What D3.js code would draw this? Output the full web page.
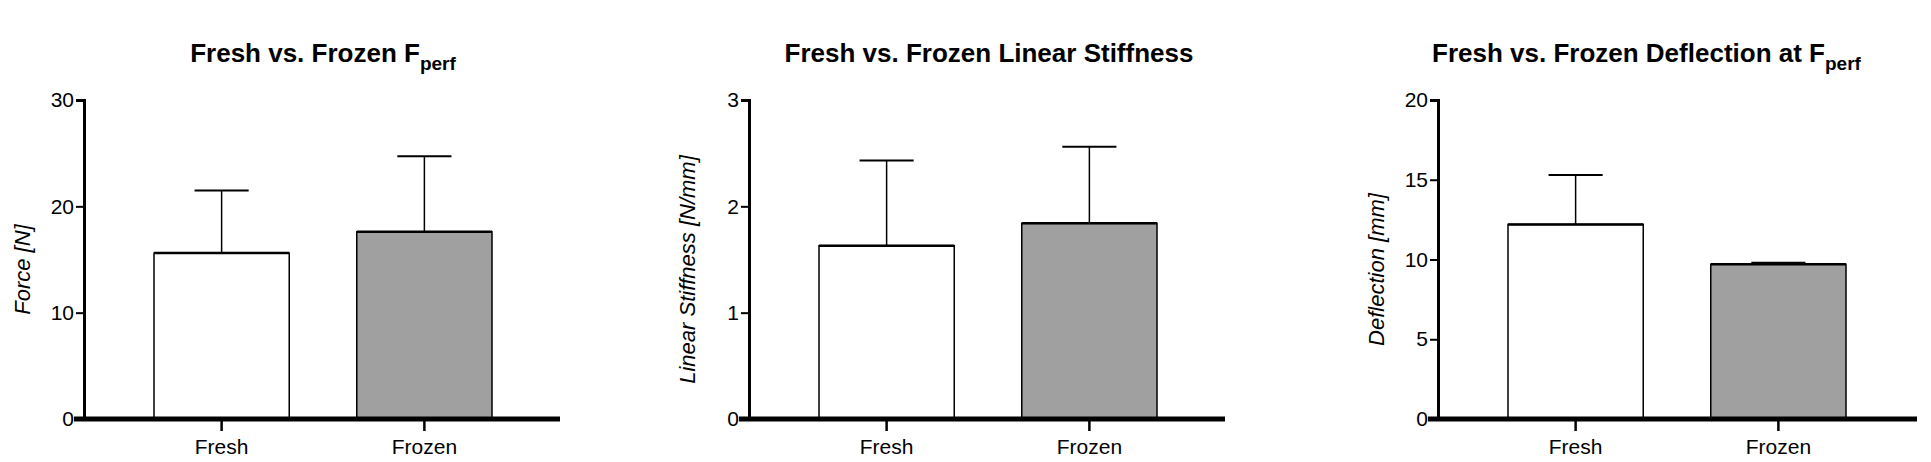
<!DOCTYPE html>
<html><head><meta charset="utf-8">
<script src="https://cdn.jsdelivr.net/npm/d3@7"></script>
<style>body{margin:0;background:#fff}text{font-family:"Liberation Sans",Arial,sans-serif}</style>
</head><body><svg width="1931" height="462"></svg>
<script>
let svg = d3.select("svg");

let groups = ["Fresh", "Frozen"];
let fills = ["#ffffff", "#a0a0a0"];
let forceMean = [15.6, 17.6], forceSd = [5.9, 7.1];
let stiffMean = [1.63, 1.84], stiffSd = [0.80, 0.72];
let deflMean = [12.2, 9.7], deflSd = [3.1, 0.1];

let panels = [
    {title: "Fresh vs. Frozen  F", sub: "perf", ylab: "Force [N]", max: 30, ticks: [0, 10, 20, 30], mean: forceMean, sd: forceSd, x0: 84, x1: 560, tx: 323, anchor: "middle"},
    {title: "Fresh vs. Frozen Linear Stiffness", sub: "", ylab: "Linear Stiffness [N/mm]", max: 3, ticks: [0, 1, 2, 3], mean: stiffMean, sd: stiffSd, x0: 749, x1: 1225, tx: 989, anchor: "middle"},
    {title: "Fresh vs. Frozen  Deflection at F", sub: "perf", ylab: "Deflection [mm]", max: 20, ticks: [0, 5, 10, 15, 20], mean: deflMean, sd: deflSd, x0: 1438, x1: 1917, tx: 1432, anchor: "start"}
];

panels.forEach(p => {
    let g = svg.append("g");
    let y = d3.scaleLinear().domain([0, p.max]).range([419, 100]);
    let x = d3.scaleBand().domain(groups).range([p.x0 + 70, p.x0 + 408]).paddingInner(0.333).paddingOuter(0);

    let t = g.append("text").attr("x", p.tx).attr("y", 62).attr("text-anchor", p.anchor)
        .style("font-size", "26px").style("font-weight", "bold").text(p.title);
    if (p.sub) t.append("tspan").attr("dy", 8).style("font-size", "19px").text(p.sub);

    g.selectAll("line.err").data(groups).enter().append("line")
        .attr("x1", d => x(d) + x.bandwidth() / 2).attr("x2", d => x(d) + x.bandwidth() / 2)
        .attr("y1", (d, i) => y(p.mean[i])).attr("y2", (d, i) => y(p.mean[i] + p.sd[i]))
        .attr("stroke", "#000").attr("stroke-width", 1.5);
    g.selectAll("line.cap").data(groups).enter().append("line")
        .attr("x1", d => x(d) + x.bandwidth() * 0.3).attr("x2", d => x(d) + x.bandwidth() * 0.7)
        .attr("y1", (d, i) => y(p.mean[i] + p.sd[i])).attr("y2", (d, i) => y(p.mean[i] + p.sd[i]))
        .attr("stroke", "#000").attr("stroke-width", 2);
    g.selectAll("rect").data(groups).enter().append("rect")
        .attr("x", d => x(d)).attr("width", x.bandwidth())
        .attr("y", (d, i) => y(p.mean[i])).attr("height", (d, i) => y(0) - y(p.mean[i]))
        .attr("fill", (d, i) => fills[i]).attr("stroke", "#000").attr("stroke-width", 1.5);
    g.selectAll("line.top").data(groups).enter().append("line")
        .attr("x1", d => x(d)).attr("x2", d => x(d) + x.bandwidth())
        .attr("y1", (d, i) => y(p.mean[i])).attr("y2", (d, i) => y(p.mean[i]))
        .attr("stroke", "#000").attr("stroke-width", 2.5);

    let ya = g.append("g").attr("transform", `translate(${p.x0},0)`)
        .call(d3.axisLeft(y).tickValues(p.ticks).tickFormat(d3.format("d")).tickSize(8).tickPadding(2));
    ya.select(".domain").attr("stroke-width", 3);
    ya.selectAll(".tick line").attr("stroke-width", 2);
    ya.selectAll("text").style("font-size", "21px").attr("fill", "#000");

    let xa = g.append("g").attr("transform", "translate(0,419)")
        .call(d3.axisBottom(x).tickSize(12).tickPadding(8));
    xa.select(".domain").attr("d", `M${p.x0 - 10},0H${p.x1}`).attr("stroke-width", 5);
    xa.selectAll(".tick line").attr("stroke-width", 2.5);
    xa.selectAll("text").style("font-size", "21px").attr("fill", "#000");

    g.append("text").attr("transform", `translate(${p.x0 - 54},${(100 + 419) / 2 + 10}) rotate(-90)`)
        .attr("text-anchor", "middle").style("font-size", "22px").style("font-style", "italic").text(p.ylab);
});
</script></body></html>
